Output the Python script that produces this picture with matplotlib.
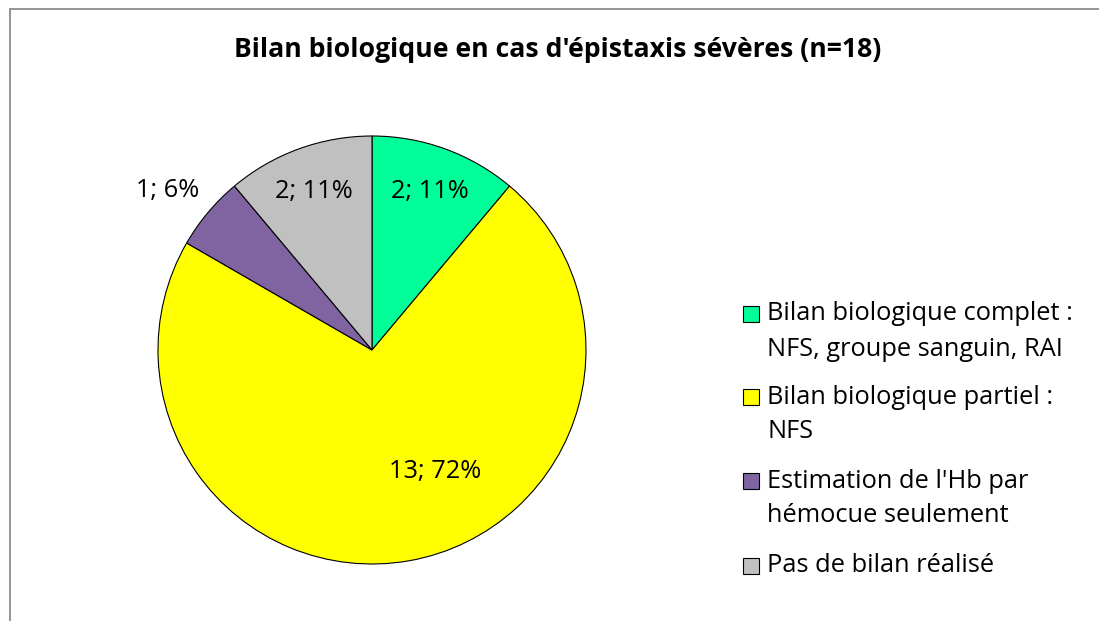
import matplotlib
matplotlib.use("Agg")
import matplotlib.pyplot as plt
from matplotlib.patches import Rectangle
import numpy as np

title = "Bilan biologique en cas d'épistaxis sévères (n=18)"
categories = [
    "Bilan biologique complet :\nNFS, groupe sanguin, RAI",
    "Bilan biologique partiel :\nNFS",
    "Estimation de l'Hb par\nhémocue seulement",
    "Pas de bilan réalisé",
]
values = [2, 13, 1, 2]
colors = ["#00FF99", "#FFFF00", "#8064A2", "#C0C0C0"]

FONT = "Open Sans"
W, H = 1099, 621
fig = plt.figure(figsize=(W / 100, H / 100), dpi=100)
fig.patch.set_facecolor("white")

# chart frame
fig.patches.append(Rectangle((9.5 / W, -0.1), 1.2, 1.1 - 8.5 / H, transform=fig.transFigure,
                             fill=False, edgecolor="#8c8c8c", linewidth=1.3, clip_on=False))

cx, cy, r = 372, 350, 214
ax = fig.add_axes([(cx - r) / W, (H - cy - r) / H, 2 * r / W, 2 * r / H])
total = sum(values)
wedges, _ = ax.pie(values, colors=colors, startangle=90, counterclock=False,
                   wedgeprops=dict(edgecolor="black", linewidth=0.8))
ax.set_xlim(-1, 1)
ax.set_ylim(-1, 1)
ax.set_aspect("auto")
ax.axis("off")

# label placement (radius fraction, angle override or None)
placements = [(0.79, None), (0.64, -62.7), (1.21, 142), (0.79, None)]
for w, v, (rad, ang) in zip(wedges, values, placements):
    if ang is None:
        ang = (w.theta1 + w.theta2) / 2
    a = np.deg2rad(ang)
    pct = round(100 * v / total)
    ax.text(rad * np.cos(a), rad * np.sin(a), f"{v}; {pct}%", ha="center", va="center",
            fontsize=18.3, family=FONT, color="black")

fig.text(558 / W, 1 - 50 / H, title, ha="center", va="center", fontsize=19.2,
         fontweight="bold", family=FONT)

# legend
lx, sq = 751, 16
ys = [314, 397, 481, 565.5]
line_gap = 35
for lab, col, y in zip(categories, colors, ys):
    fig.patches.append(Rectangle(((lx - sq / 2) / W, (H - y - sq / 2) / H), sq / W, sq / H,
                                 transform=fig.transFigure, facecolor=col,
                                 edgecolor="black", linewidth=0.8))
    for i, line in enumerate(lab.split("\n")):
        fig.text(767 / W, 1 - (y + i * line_gap) / H, line, ha="left", va="center",
                 fontsize=18.3, family=FONT)

fig.savefig("out.png", dpi=100)
